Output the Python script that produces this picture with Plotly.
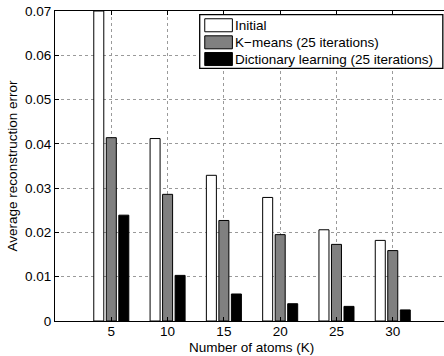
import plotly.graph_objects as go

# Number of atoms and average reconstruction error per method
atoms = [5, 10, 15, 20, 25, 30]
initial = [0.0700, 0.0412, 0.0329, 0.0279, 0.0206, 0.0182]
kmeans = [0.0414, 0.0286, 0.0227, 0.0195, 0.0173, 0.0159]
dictlearn = [0.0239, 0.0103, 0.0061, 0.0039, 0.0033, 0.0025]

y_ticks = [0, 0.01, 0.02, 0.03, 0.04, 0.05, 0.06, 0.07]
y_ticktext = ["0", "0.01", "0.02", "0.03", "0.04", "0.05", "0.06", "0.07"]

series_names = ["Initial", "K\u2212means (25 iterations)", "Dictionary learning (25 iterations)"]
series_vals = [initial, kmeans, dictlearn]
series_colors = ["#ffffff", "#808080", "#000000"]

FONT = "Liberation Sans, Arial, sans-serif"
FS = 13.5

# grouped-bar geometry (in x-axis units)
bar_w = 0.889
spacing = 1.111
offsets = [-spacing, 0.0, spacing]

fig = go.Figure()
for name, vals, col, off in zip(series_names, series_vals, series_colors, offsets):
    fig.add_trace(go.Bar(
        x=atoms, y=vals, name=name,
        width=bar_w, offset=off - bar_w / 2,
        marker=dict(color=col, line=dict(color="#000000", width=1)),
        showlegend=False,
    ))

# legend box drawn in paper coordinates
lx0, lx1, ly0, ly1 = 0.372, 0.997, 0.815, 0.988
fig.add_shape(type="rect", xref="paper", yref="paper", x0=lx0, x1=lx1, y0=ly0, y1=ly1,
              line=dict(color="#000000", width=1.3), fillcolor="#ffffff", layer="above")
row_tops = [0.975, 0.92, 0.866]
sw_h = 0.042
for name, col, top in zip(series_names, series_colors, row_tops):
    fig.add_shape(type="rect", xref="paper", yref="paper", x0=0.385, x1=0.456,
                  y0=top - sw_h, y1=top, line=dict(color="#000000", width=1),
                  fillcolor=col, layer="above")
    fig.add_annotation(xref="paper", yref="paper", x=0.458, y=top - sw_h / 2,
                       text=name, showarrow=False, xanchor="left", yanchor="middle",
                       font=dict(family=FONT, size=FS, color="#000000"))

# x-axis title placed below the tick labels
fig.add_annotation(xref="paper", yref="paper", x=0.506, y=-0.085,
                   text="Number of atoms (K)", showarrow=False,
                   xanchor="center", yanchor="middle",
                   font=dict(family=FONT, size=FS, color="#000000"))

fig.update_layout(
    width=444, height=356,
    margin=dict(l=55, r=0, t=11, b=35),
    paper_bgcolor="#ffffff", plot_bgcolor="#ffffff",
    barmode="overlay",
    font=dict(family=FONT, size=FS, color="#000000"),
    xaxis=dict(
        range=[0, 34.55], tickvals=atoms, ticktext=[str(a) for a in atoms],
        ticks="inside", ticklen=4, tickcolor="#000000", ticklabelstandoff=-2,
        showline=True, linecolor="#000000", linewidth=1, mirror="ticks",
        showgrid=True, gridcolor="#9a9a9a", griddash="dot", gridwidth=1,
        zeroline=False, automargin=False,
    ),
    yaxis=dict(
        range=[0, 0.07], tickvals=y_ticks, ticktext=y_ticktext,
        ticks="inside", ticklen=4, tickcolor="#000000",
        showline=True, linecolor="#000000", linewidth=1, mirror=False,
        showgrid=True, gridcolor="#9a9a9a", griddash="dot", gridwidth=1,
        zeroline=False, automargin=False,
        title=dict(text="Average reconstruction error", standoff=4, font=dict(size=FS)),
    ),
)

fig.write_html("out.html")
